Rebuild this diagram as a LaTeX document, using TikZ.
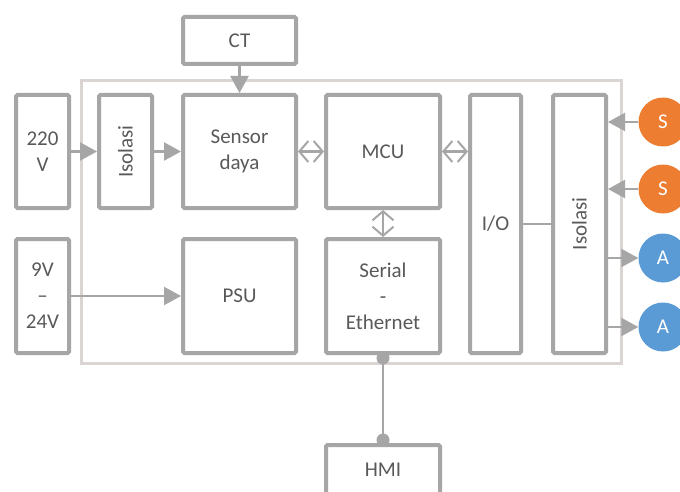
\documentclass[tikz,border=0pt]{standalone}
\usepackage{fontspec}
\setmainfont{Carlito}
\usetikzlibrary{arrows.meta}
\definecolor{boxgray}{HTML}{A6A6A6}
\definecolor{outergray}{HTML}{DAD5D2}
\definecolor{txtgray}{HTML}{595959}
\definecolor{sorange}{HTML}{ED7D31}
\definecolor{ablue}{HTML}{5B9BD5}
\begin{document}
\begin{tikzpicture}[x=1pt,y=-1pt,
  blk/.style={draw=boxgray,line width=4pt,rounded corners=1.5pt,fill=white,
    text=txtgray,align=center,inner sep=0pt,
    font=\fontsize{21}{26}\selectfont},
  circ/.style={circle,fill=#1,minimum size=49pt,inner sep=0pt,text=white,
    font=\fontsize{21}{26}\selectfont},
  conn/.style={draw=boxgray,line width=2.2pt},
  farrow/.style={conn,-{Triangle[length=17pt,width=18pt]}},
  biarrow/.style={conn,{Straight Barb[length=9pt,width=21pt,line width=2pt]}-{Straight Barb[length=9pt,width=21pt,line width=2pt]}},
  dotc/.style={circle,fill=boxgray,minimum size=13pt,inner sep=0pt}
]
\useasboundingbox (0,0) rectangle (680,492);
\fill[white] (0,0) rectangle (680,492);
% outer frame
\draw[outergray,line width=3pt] (81,81) rectangle (621,363);

\node[blk,minimum width=113pt,minimum height=47pt] (ct) at (239.5,40.5) {CT};
\node[blk,minimum width=53pt,minimum height=113pt] (v220) at (42.5,151.5) {220\\V};
\node[blk,minimum width=53pt,minimum height=113pt] (iso1) at (125.5,151.5) {\rotatebox{90}{Isolasi}};
\node[blk,minimum width=113pt,minimum height=113pt] (sensor) at (239.5,151.5) {Sensor\\daya};
\node[blk,minimum width=114pt,minimum height=113pt] (mcu) at (383,151.5) {MCU};
\node[blk,minimum width=53pt,minimum height=114pt] (v9) at (42.5,296) {9V\\--\\24V};
\node[blk,minimum width=113pt,minimum height=114pt] (psu) at (239.5,296) {PSU};
\node[blk,minimum width=114pt,minimum height=114pt] (serial) at (383,296) {Serial\\-\\Ethernet};
\node[blk,minimum width=51pt,minimum height=258pt] (io) at (495.5,224) {I/O};
\node[blk,minimum width=53pt,minimum height=258pt] (iso2) at (579.5,224) {\rotatebox{90}{Isolasi}};
\node[blk,minimum width=114pt,minimum height=60pt] (hmi) at (383,475) {};
\node[text=txtgray,font=\fontsize{21}{26}\selectfont,inner sep=0pt] (hmit) at (383,470) {HMI};

\node[circ=sorange] (s1) at (663,122) {S};
\node[circ=sorange] (s2) at (663,189) {S};
\node[circ=ablue] (a1) at (663,258) {A};
\node[circ=ablue] (a2) at (663,327) {A};

% connectors
\draw[farrow] (ct) -- (sensor);
\draw[farrow] (v220) -- (iso1);
\draw[farrow] (iso1) -- (sensor);
\draw[farrow] (v9) -- (psu);
\draw[biarrow] (sensor) -- (mcu);
\draw[biarrow] (mcu.east) -- (mcu.east -| io.west);
\draw[biarrow] (mcu) -- (serial);
\draw[conn] (io) -- (iso2);
\draw[farrow] (s1) -- (s1 -| iso2.east);
\draw[farrow] (s2) -- (s2 -| iso2.east);
\draw[farrow] (a1 -| iso2.east) -- (a1);
\draw[farrow] (a2 -| iso2.east) -- (a2);
\draw[conn] (serial.south) -- (hmi.north);
\node[dotc] (d1) at ([yshift=-3pt]serial.south) {};
\node[dotc] (d2) at ([yshift=3pt]hmi.north) {};
\end{tikzpicture}
\end{document}
